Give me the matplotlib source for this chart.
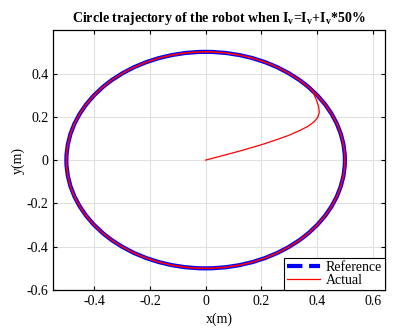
import matplotlib
matplotlib.use('Agg')
import matplotlib.pyplot as plt
from matplotlib.patches import Circle, Arc
from matplotlib.lines import Line2D

plt.rcParams['font.family'] = 'Liberation Serif'
plt.rcParams['mathtext.fontset'] = 'custom'
plt.rcParams['mathtext.rm'] = 'Liberation Serif'
plt.rcParams['mathtext.bf'] = 'Liberation Serif:bold'

# reference circle
ref_center = (0.0, 0.0)
ref_radius = 0.5

# actual path: approach from origin, then follows the circle
approach_x = [0.0, 0.05, 0.10, 0.15, 0.20, 0.25, 0.30, 0.34, 0.37, 0.39, 0.403, 0.408, 0.406, 0.400, 0.392, 0.386]
approach_y = [0.0, 0.017, 0.034, 0.052, 0.071, 0.092, 0.115, 0.138, 0.158, 0.178, 0.198, 0.220, 0.245, 0.270, 0.295, 0.317]
join_angle = 39.4

xticks = [-0.4, -0.2, 0, 0.2, 0.4, 0.6]
yticks = [-0.6, -0.4, -0.2, 0, 0.2, 0.4]

fig = plt.figure(figsize=(3.94, 3.36), dpi=100)
ax = fig.add_axes([53.3/394, 1-290/336, (385-53.3)/394, (290-30)/336])

ax.add_patch(Circle(ref_center, ref_radius, fill=False, edgecolor='blue', linewidth=3.0, zorder=2))
ax.add_patch(Arc(ref_center, 2*ref_radius, 2*ref_radius, theta1=join_angle, theta2=join_angle+360,
                 edgecolor='red', linewidth=1.2, zorder=3))
ax.plot(approach_x, approach_y, color='red', linewidth=0.9, zorder=3)

ax.set_xlim(-0.547, 0.644)
ax.set_ylim(-0.6, 0.601)
ax.set_xticks(xticks)
ax.set_yticks(yticks)
ax.set_xticklabels(['-0.4', '-0.2', '0', '0.2', '0.4', '0.6'])
ax.set_yticklabels(['-0.6', '-0.4', '-0.2', '0', '0.2', '0.4'])
ax.tick_params(direction='in', top=True, right=True, labelsize=10, length=3, width=0.8)
ax.grid(True, color='#e0e0e0', linewidth=0.8)
ax.set_axisbelow(True)
for s in ax.spines.values():
    s.set_linewidth(0.9)

ax.set_xlabel('x(m)', fontsize=10, labelpad=3)
ax.set_ylabel('y(m)', fontsize=10, labelpad=1)
ax.set_title(r'Circle trajectory of the robot when $\mathbf{I_v}$=$\mathbf{I_v}$+$\mathbf{I_v}$*50%',
             fontsize=10, fontweight='bold', pad=6)

handles = [Line2D([], [], color='blue', linestyle='--', linewidth=3.0),
           Line2D([], [], color='red', linewidth=0.9)]
leg = ax.legend(handles, ['Reference', 'Actual'], loc='lower right', fontsize=10,
                fancybox=False, edgecolor='black', framealpha=1, borderaxespad=0,
                handlelength=2.4, borderpad=0.2, labelspacing=0.05, handletextpad=0.4)
leg.get_frame().set_linewidth(0.8)

fig.savefig('out.png', dpi=100)
